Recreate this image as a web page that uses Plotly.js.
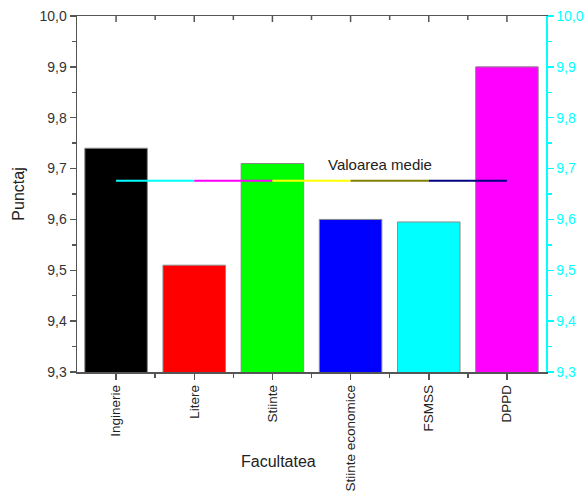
<!DOCTYPE html>
<html><head><meta charset="utf-8">
<script src="https://cdn.plot.ly/plotly-3.0.1.min.js"></script>
<style>body{margin:0;padding:0;background:#fff}#chart{width:588px;height:497px}</style>
</head><body><div id="chart"></div>
<script>
const categories = ["Inginerie", "Litere", "Stiinte", "Stiinte economice", "FSMSS", "DPPD"];
const scores = [9.74, 9.51, 9.71, 9.60, 9.595, 9.90];
const barColors = ["#000000", "#ff0000", "#00ff00", "#0000ff", "#00ffff", "#ff00ff"];
const meanSegmentColors = ["#00ffff", "#ff00ff", "#ffff00", "#808000", "#000080"];
const yTickVals = [9.3, 9.4, 9.5, 9.6, 9.7, 9.8, 9.9, 10.0];
const yTickText = ["9,3", "9,4", "9,5", "9,6", "9,7", "9,8", "9,9", "10,0"];

const idx = categories.map((c, i) => i);
const midIdx = idx.slice(0, -1).map(i => i + 0.5);
const meanValue = scores.reduce((a, b) => a + b, 0) / scores.length;

const traces = [{
  type: 'bar', x: idx, y: scores, width: 0.8,
  marker: {color: barColors, line: {color: '#8a8a8a', width: 1}},
  hoverinfo: 'skip', showlegend: false
}];
meanSegmentColors.forEach((col, i) => {
  traces.push({
    type: 'scatter', mode: 'lines', x: [idx[i], idx[i + 1]], y: [meanValue, meanValue],
    line: {color: col, width: 2}, showlegend: false, hoverinfo: 'skip'
  });
});
// invisible trace so the right axis is drawn
traces.push({
  type: 'scatter', mode: 'markers', x: [idx[0]], y: [scores[0]], xaxis: 'x', yaxis: 'y2',
  marker: {opacity: 0, size: 1}, showlegend: false, hoverinfo: 'skip'
});

// inward tick marks on the top frame
const topTick = (xv, len) => ({
  type: 'line', xref: 'x', yref: 'paper', ysizemode: 'pixel', yanchor: 1,
  x0: xv, x1: xv, y0: 0, y1: -len, line: {color: '#555', width: 1.5}, layer: 'above'
});
const shapes = idx.map(v => topTick(v, 6)).concat(midIdx.map(v => topTick(v, 4)));

const ff = 'Liberation Sans, Arial, sans-serif';
const layout = {
  width: 588, height: 497,
  margin: {l: 77, r: 42, t: 16, b: 125},
  paper_bgcolor: '#fff', plot_bgcolor: '#fff',
  font: {family: ff, size: 13, color: '#333'},
  showlegend: false,
  xaxis: {
    range: [-0.5, 5.5], tickmode: 'array', tickvals: idx, ticktext: categories,
    tickangle: -90, ticks: 'outside', ticklen: 6, tickwidth: 1.5, tickcolor: '#555',
    showline: true, mirror: true, linecolor: '#555', linewidth: 1.5, showgrid: false, zeroline: false,
    tickfont: {family: ff, size: 13.5, color: '#222'},
    minor: {tickmode: 'array', tickvals: midIdx, ticks: 'outside', ticklen: 4, tickwidth: 1.5, tickcolor: '#555', showgrid: false}
  },
  yaxis: {
    range: [9.3, 10.0], tickmode: 'array', tickvals: yTickVals, ticktext: yTickText,
    ticks: 'outside', ticklen: 6, tickwidth: 1.5, tickcolor: '#555',
    showline: true, linecolor: '#555', linewidth: 1.5, showgrid: false, zeroline: false,
    tickfont: {family: ff, size: 14, color: '#333'},
    title: {text: 'Punctaj', font: {family: ff, size: 16, color: '#222'}, standoff: 11},
    minor: {dtick: 0.05, tick0: 9.3, ticks: 'outside', ticklen: 4, tickwidth: 1.5, tickcolor: '#555', showgrid: false}
  },
  yaxis2: {
    overlaying: 'y', side: 'right', anchor: 'x', range: [9.3, 10.0], tickmode: 'array', tickvals: yTickVals, ticktext: yTickText,
    ticks: 'outside', ticklen: 6, tickwidth: 1.5, tickcolor: '#00ffff',
    showline: true, linecolor: '#00ffff', linewidth: 1.5, showgrid: false, zeroline: false,
    tickfont: {family: ff, size: 14, color: '#00ffff'},
    minor: {dtick: 0.05, tick0: 9.3, ticks: 'outside', ticklen: 4, tickwidth: 1.5, tickcolor: '#00ffff', showgrid: false}
  },
  shapes: shapes,
  annotations: [
    {text: 'Valoarea medie', x: 3.38, y: meanValue, xref: 'x', yref: 'y', yshift: 16, showarrow: false,
     font: {family: ff, size: 15, color: '#222'}},
    {text: 'Facultatea', xref: 'paper', yref: 'paper', x: (278 - 77) / 469, y: 0, yshift: -100, showarrow: false,
     font: {family: ff, size: 16, color: '#222'}}
  ]
};
Plotly.newPlot('chart', traces, layout, {displayModeBar: false, staticPlot: true});
</script></body></html>
